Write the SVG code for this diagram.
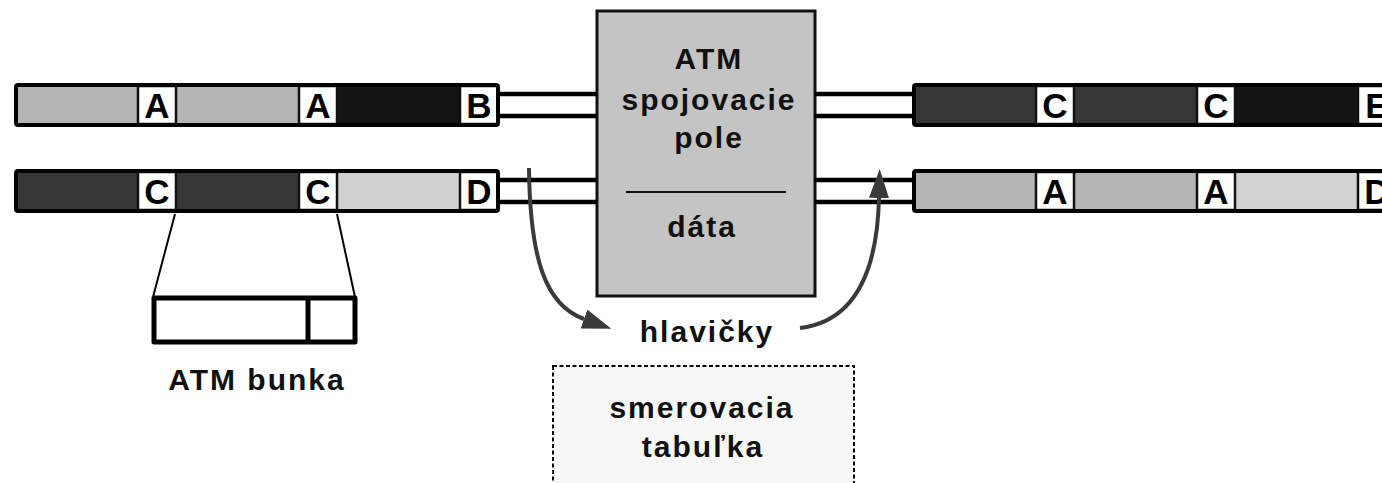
<svg xmlns="http://www.w3.org/2000/svg" width="1382" height="483" viewBox="0 0 1382 483">
<defs>
<style>
.bar{fill:none;stroke:#000;stroke-width:4}
.hdr{fill:#fff;stroke:#111;stroke-width:2.5}
.hl{font-family:"Liberation Sans",Arial,sans-serif;font-weight:bold;font-size:35px;fill:#000;text-anchor:middle}
.t{font-family:"Liberation Sans",Arial,sans-serif;font-weight:bold;font-size:30px;letter-spacing:2px;fill:#111;text-anchor:middle}
.wire{stroke:#000;stroke-width:4.5;fill:none}
.arc{stroke:#3a3a3a;stroke-width:4;fill:none}
</style>
<marker id="ah" viewBox="0 0 29 20" refX="0" refY="10" markerWidth="29" markerHeight="20" markerUnits="userSpaceOnUse" orient="auto">
<path d="M0,0 L29,10 L0,20 z" fill="#3a3a3a"/>
</marker>
</defs>
<rect width="1382" height="483" fill="#fff"/>

<g id="in-top">
<rect x="16" y="85" width="482" height="40" fill="#fff"/>
<rect x="16" y="87" width="121" height="36" fill="#b4b4b4"/>
<rect x="177" y="87" width="122" height="36" fill="#b4b4b4"/>
<rect x="337" y="87" width="123" height="36" fill="#141414"/>
<rect x="138" y="86" width="38" height="38" class="hdr"/>
<rect x="299" y="86" width="38" height="38" class="hdr"/>
<rect x="460" y="86" width="38" height="38" class="hdr"/>
<rect x="16" y="85" width="482" height="40" rx="2" class="bar"/>
<text x="157" y="118" class="hl">A</text>
<text x="318" y="118" class="hl">A</text>
<text x="479" y="118" class="hl">B</text>
</g>

<g id="in-bottom" transform="translate(0,86)">
<rect x="16" y="85" width="482" height="40" fill="#fff"/>
<rect x="16" y="87" width="121" height="36" fill="#363636"/>
<rect x="177" y="87" width="122" height="36" fill="#363636"/>
<rect x="337" y="87" width="123" height="36" fill="#d0d0d0"/>
<rect x="138" y="86" width="38" height="38" class="hdr"/>
<rect x="299" y="86" width="38" height="38" class="hdr"/>
<rect x="460" y="86" width="38" height="38" class="hdr"/>
<rect x="16" y="85" width="482" height="40" rx="2" class="bar"/>
<text x="157" y="118" class="hl">C</text>
<text x="318" y="118" class="hl">C</text>
<text x="479" y="118" class="hl">D</text>
</g>

<g id="out-top" transform="translate(898,0)">
<rect x="16" y="85" width="482" height="40" fill="#fff"/>
<rect x="16" y="87" width="121" height="36" fill="#363636"/>
<rect x="177" y="87" width="122" height="36" fill="#363636"/>
<rect x="337" y="87" width="123" height="36" fill="#141414"/>
<rect x="138" y="86" width="38" height="38" class="hdr"/>
<rect x="299" y="86" width="38" height="38" class="hdr"/>
<rect x="460" y="86" width="38" height="38" class="hdr"/>
<rect x="16" y="85" width="482" height="40" rx="2" class="bar"/>
<text x="157" y="118" class="hl">C</text>
<text x="318" y="118" class="hl">C</text>
<text x="479" y="118" class="hl">E</text>
</g>

<g id="out-bottom" transform="translate(898,86)">
<rect x="16" y="85" width="482" height="40" fill="#fff"/>
<rect x="16" y="87" width="121" height="36" fill="#b4b4b4"/>
<rect x="177" y="87" width="122" height="36" fill="#b4b4b4"/>
<rect x="337" y="87" width="123" height="36" fill="#d2d2d2"/>
<rect x="138" y="86" width="38" height="38" class="hdr"/>
<rect x="299" y="86" width="38" height="38" class="hdr"/>
<rect x="460" y="86" width="38" height="38" class="hdr"/>
<rect x="16" y="85" width="482" height="40" rx="2" class="bar"/>
<text x="157" y="118" class="hl">A</text>
<text x="318" y="118" class="hl">A</text>
<text x="479" y="118" class="hl">D</text>
</g>

<g id="switch">
<rect x="597" y="11" width="218" height="285" fill="#c4c4c4" stroke="#111" stroke-width="3"/>
<line x1="626" y1="192" x2="786" y2="192" stroke="#111" stroke-width="2"/>
<text x="709" y="69" class="t">ATM</text>
<text x="709" y="110" class="t">spojovacie</text>
<text x="709" y="148" class="t">pole</text>
<text x="702" y="237" class="t">dáta</text>
</g>

<g id="cell">
<rect x="154" y="298" width="201" height="44" fill="#fff" stroke="#000" stroke-width="5" stroke-linejoin="round"/>
<line x1="308" y1="298" x2="308" y2="342" stroke="#000" stroke-width="5"/>
<text x="257" y="390" class="t">ATM bunka</text>
</g>

<g id="headers">
<text x="707" y="342" class="t">hlavičky</text>
</g>

<g id="table">
<rect x="553" y="366" width="301" height="130" fill="#f7f7f7" stroke="#000" stroke-width="2" stroke-dasharray="4 2.5"/>
<text x="702" y="418" class="t">smerovacia</text>
<text x="703" y="457" class="t">tabuľka</text>
</g>

<g id="connectors">
<line x1="500" y1="94" x2="597" y2="94" class="wire"/>
<line x1="500" y1="116" x2="597" y2="116" class="wire"/>
<line x1="500" y1="180" x2="597" y2="180" class="wire"/>
<line x1="500" y1="202" x2="597" y2="202" class="wire"/>
<line x1="815" y1="94" x2="912" y2="94" class="wire"/>
<line x1="815" y1="116" x2="912" y2="116" class="wire"/>
<line x1="815" y1="180" x2="912" y2="180" class="wire"/>
<line x1="815" y1="202" x2="912" y2="202" class="wire"/>
<line x1="175" y1="214" x2="153" y2="297" stroke="#000" stroke-width="2"/>
<line x1="337" y1="214" x2="355" y2="297" stroke="#000" stroke-width="2"/>
<path d="M529,168 C530,258 545,305 584,319" class="arc" marker-end="url(#ah)"/>
<path d="M800,328 C850,322 877,280 879,198" class="arc" marker-end="url(#ah)"/>
</g>
</svg>
